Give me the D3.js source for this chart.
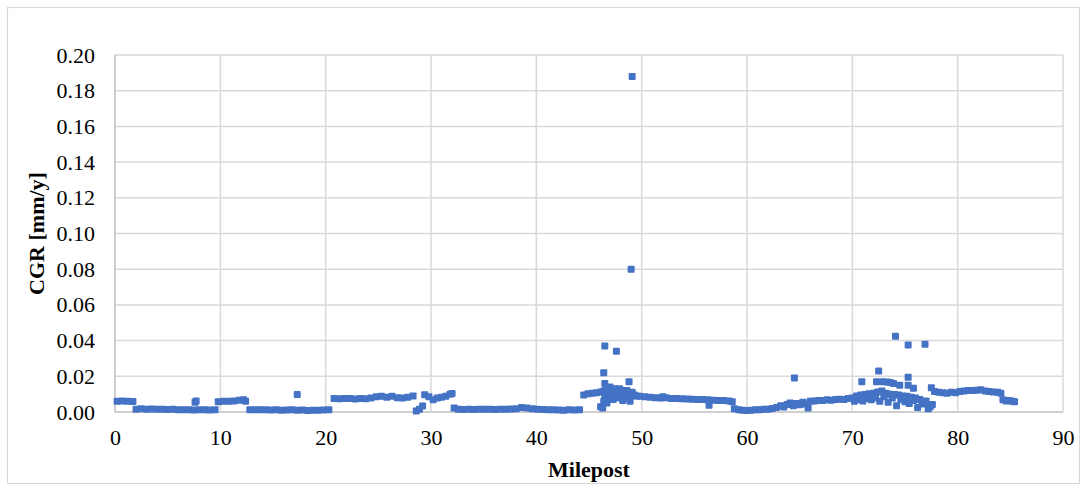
<!DOCTYPE html>
<html>
<head>
<meta charset="utf-8">
<script src="https://cdn.jsdelivr.net/npm/d3@7"></script>
<style>
  body { margin: 0; background: #fff; }
  svg { display: block; }
  .tick text { font-family: "Liberation Serif", "Times New Roman", serif; font-size: 22px; fill: #000; }
</style>
</head>
<body>
<svg id="chart" width="1086" height="485"></svg>
<script>
// axis ticks
var xTicks = [0, 10, 20, 30, 40, 50, 60, 70, 80, 90];
var yTicks = [0, 0.02, 0.04, 0.06, 0.08, 0.10, 0.12, 0.14, 0.16, 0.18, 0.20];

// [milepost, CGR mm/y], west to east
var seg0to12 = [
  [0.2, 0.0060], [0.7, 0.0061], [1.2, 0.0060], [1.7, 0.0059],
  [2.0, 0.0015], [2.5, 0.0018], [3.0, 0.0016], [3.5, 0.0017], [4.0, 0.0015], [4.5, 0.0016],
  [5.0, 0.0014], [5.5, 0.0015], [6.0, 0.0012], [6.5, 0.0013], [7.0, 0.0012], [7.5, 0.0011],
  [8.0, 0.0012], [8.5, 0.0012], [9.0, 0.0011], [9.5, 0.0012], [7.6, 0.0055], [7.7, 0.0062],
  [9.8, 0.0058], [10.3, 0.0060], [10.8, 0.0060], [11.3, 0.0062], [11.8, 0.0066], [12.2, 0.0068], [12.4, 0.0060]
];
var seg12to32 = [
  [12.8, 0.0013], [13.3, 0.0013], [13.8, 0.0012], [14.3, 0.0012], [14.8, 0.0011], [15.3, 0.0012],
  [15.8, 0.0010], [16.3, 0.0011], [16.8, 0.0012], [17.3, 0.0010], [17.8, 0.0011], [18.3, 0.0009],
  [18.8, 0.0010], [19.3, 0.0010], [19.8, 0.0011], [20.3, 0.0012], [17.3, 0.0098],
  [20.8, 0.0075], [21.3, 0.0074], [21.8, 0.0075], [22.3, 0.0075], [22.8, 0.0073], [23.3, 0.0076],
  [23.8, 0.0074], [24.3, 0.0078], [24.8, 0.0085], [25.3, 0.0088], [25.8, 0.0082], [26.3, 0.0088],
  [26.8, 0.0080], [27.3, 0.0078], [27.8, 0.0082], [28.3, 0.0090],
  [28.6, 0.0005], [28.9, 0.0015], [29.2, 0.0033],
  [29.4, 0.0097], [29.8, 0.0085], [30.2, 0.0068], [30.6, 0.0078], [31.0, 0.0082], [31.4, 0.0088],
  [31.8, 0.0100], [32.0, 0.0104]
];
var seg32to46 = [
  [32.2, 0.0022], [32.6, 0.0015], [33.1, 0.0014], [33.6, 0.0015], [34.1, 0.0014], [34.6, 0.0015],
  [35.1, 0.0016], [35.6, 0.0015], [36.1, 0.0014], [36.6, 0.0015], [37.1, 0.0016], [37.6, 0.0017],
  [38.1, 0.0018], [38.6, 0.0025], [39.1, 0.0022], [39.6, 0.0018], [40.1, 0.0016], [40.6, 0.0014],
  [41.1, 0.0013], [41.6, 0.0012], [42.1, 0.0011], [42.6, 0.0010], [43.1, 0.0012], [43.6, 0.0011],
  [44.1, 0.0012],
  [44.5, 0.0095], [44.9, 0.0102], [45.3, 0.0105], [45.7, 0.0108], [46.1, 0.0112], [46.4, 0.0118]
];
var seg46to50 = [
  [46.1, 0.0030], [46.3, 0.0022], [46.4, 0.0060], [46.5, 0.0090], [46.6, 0.0130], [46.7, 0.0050],
  [46.8, 0.0115], [46.9, 0.0080], [47.0, 0.0140], [47.1, 0.0100], [47.2, 0.0120], [47.3, 0.0070],
  [47.4, 0.0130], [47.5, 0.0090], [47.6, 0.0110], [47.7, 0.0120], [47.8, 0.0080], [47.9, 0.0130],
  [48.0, 0.0100], [48.1, 0.0110], [48.2, 0.0065], [48.3, 0.0120], [48.4, 0.0090], [48.5, 0.0110],
  [48.6, 0.0120], [48.7, 0.0075], [48.8, 0.0100], [48.9, 0.0060], [49.0, 0.0090], [49.1, 0.0110],
  [49.3, 0.0095], [49.5, 0.0090],
  [46.4, 0.0220], [46.5, 0.0160], [46.5, 0.0370], [47.6, 0.0340], [48.8, 0.0170],
  [49.0, 0.0800], [49.1, 0.1880]
];
var seg50to70 = [
  [49.8, 0.0088], [50.3, 0.0085], [50.8, 0.0082], [51.3, 0.0080], [51.8, 0.0078], [52.0, 0.0086],
  [52.3, 0.0080], [52.8, 0.0076], [53.3, 0.0075], [53.8, 0.0074], [54.3, 0.0073], [54.8, 0.0072],
  [55.3, 0.0070], [55.8, 0.0070], [56.3, 0.0068], [56.4, 0.0038], [56.8, 0.0066], [57.3, 0.0065],
  [57.8, 0.0064], [58.3, 0.0062], [58.6, 0.0058],
  [58.8, 0.0018], [59.2, 0.0012], [59.6, 0.0010], [60.0, 0.0008], [60.4, 0.0010], [60.8, 0.0012],
  [61.2, 0.0013], [61.6, 0.0015], [62.0, 0.0016],
  [62.4, 0.0020], [62.8, 0.0025], [63.2, 0.0035], [63.5, 0.0028], [63.8, 0.0042], [64.1, 0.0050],
  [64.4, 0.0035], [64.7, 0.0048], [65.0, 0.0040], [65.3, 0.0055], [65.6, 0.0045], [65.8, 0.0022],
  [66.0, 0.0060], [66.4, 0.0062], [66.8, 0.0064], [67.2, 0.0065], [67.6, 0.0068], [68.0, 0.0066],
  [68.4, 0.0070], [68.8, 0.0072], [69.2, 0.0070], [69.6, 0.0075], [64.5, 0.0190]
];
var seg70to78 = [
  [70.0, 0.0078], [70.2, 0.0060], [70.4, 0.0090], [70.6, 0.0070], [70.8, 0.0095], [71.0, 0.0062],
  [71.2, 0.0098], [71.4, 0.0075], [71.6, 0.0102], [71.8, 0.0068], [72.0, 0.0105], [72.2, 0.0080],
  [72.4, 0.0112], [72.6, 0.0060], [72.8, 0.0118], [73.0, 0.0085], [73.2, 0.0105], [73.4, 0.0055],
  [73.6, 0.0100], [73.8, 0.0078], [74.0, 0.0098], [74.2, 0.0035], [74.4, 0.0095], [74.6, 0.0070],
  [74.8, 0.0090], [75.0, 0.0058], [75.2, 0.0088], [75.4, 0.0048], [75.6, 0.0082], [75.8, 0.0065],
  [76.0, 0.0078], [76.2, 0.0025], [76.4, 0.0070], [76.6, 0.0055], [76.8, 0.0045], [77.0, 0.0062],
  [77.2, 0.0018], [77.4, 0.0030], [77.6, 0.0042],
  [70.9, 0.0170], [72.3, 0.0170], [72.5, 0.0230], [72.9, 0.0170], [73.3, 0.0168], [73.6, 0.0165],
  [73.9, 0.0160], [74.1, 0.0424], [74.5, 0.0150], [75.3, 0.0375], [75.3, 0.0194], [75.3, 0.0150],
  [75.8, 0.0133], [76.9, 0.0380], [77.5, 0.0136]
];
var seg78to86 = [
  [77.8, 0.0115], [78.2, 0.0110], [78.6, 0.0108], [79.0, 0.0105], [79.4, 0.0110], [79.8, 0.0108],
  [80.2, 0.0115], [80.6, 0.0118], [81.0, 0.0120], [81.4, 0.0120], [81.8, 0.0122], [82.2, 0.0125],
  [82.6, 0.0118], [83.0, 0.0115], [83.4, 0.0112], [83.8, 0.0110], [84.1, 0.0105],
  [84.3, 0.0068], [84.6, 0.0062], [84.9, 0.0065], [85.2, 0.0060], [85.4, 0.0058]
];

var points = [].concat(seg0to12, seg12to32, seg32to46, seg46to50, seg50to70, seg70to78, seg78to86);

var svg = d3.select("#chart");
var margin = { left: 115, right: 1063, top: 55, bottom: 412 };
var x = d3.scaleLinear().domain([0, 90]).range([margin.left, margin.right]);
var y = d3.scaleLinear().domain([0, 0.20]).range([margin.bottom, margin.top]);

// outer chart border
svg.append("rect")
  .attr("x", 7.5).attr("y", 7.5)
  .attr("width", 1072).attr("height", 476)
  .attr("fill", "none").attr("stroke", "#d9d9d9").attr("stroke-width", 1.2);

// gridlines
svg.append("g")
  .selectAll("line.h").data(yTicks).join("line")
  .attr("x1", margin.left).attr("x2", margin.right)
  .attr("y1", function (d) { return y(d); }).attr("y2", function (d) { return y(d); })
  .attr("stroke", function (d) { return d === 0 ? "#bfbfbf" : "#d9d9d9"; })
  .attr("stroke-width", 1.5);
svg.append("g")
  .selectAll("line.v").data(xTicks).join("line")
  .attr("x1", function (d) { return x(d); }).attr("x2", function (d) { return x(d); })
  .attr("y1", margin.top).attr("y2", margin.bottom)
  .attr("stroke", function (d) { return d === 0 ? "#bfbfbf" : "#d9d9d9"; })
  .attr("stroke-width", 1.5);

// axes (labels only)
var yAxis = svg.append("g")
  .attr("transform", "translate(" + margin.left + ",0)")
  .call(d3.axisLeft(y).tickValues(yTicks).tickFormat(d3.format(".2f")).tickSize(0).tickPadding(20));
yAxis.select(".domain").remove();

var xAxis = svg.append("g")
  .attr("transform", "translate(0," + margin.bottom + ")")
  .call(d3.axisBottom(x).tickValues(xTicks).tickFormat(d3.format("d")).tickSize(0).tickPadding(17));
xAxis.select(".domain").remove();

// points
var s = 7;
svg.append("g")
  .selectAll("rect").data(points).join("rect")
  .attr("x", function (d) { return x(d[0]) - s / 2; })
  .attr("y", function (d) { return y(d[1]) - s / 2; })
  .attr("width", s).attr("height", s)
  .attr("rx", 1)
  .attr("fill", "#4472c4");

// axis titles
svg.append("text")
  .attr("x", (margin.left + margin.right) / 2).attr("y", 477)
  .attr("text-anchor", "middle")
  .style("font-family", "Liberation Serif, serif")
  .style("font-size", "22px").style("font-weight", "bold")
  .text("Milepost");

svg.append("text")
  .attr("transform", "translate(44," + ((margin.top + margin.bottom) / 2) + ") rotate(-90)")
  .attr("text-anchor", "middle")
  .style("font-family", "Liberation Serif, serif")
  .style("font-size", "22px").style("font-weight", "bold")
  .text("CGR [mm/y]");
</script>
</body>
</html>
